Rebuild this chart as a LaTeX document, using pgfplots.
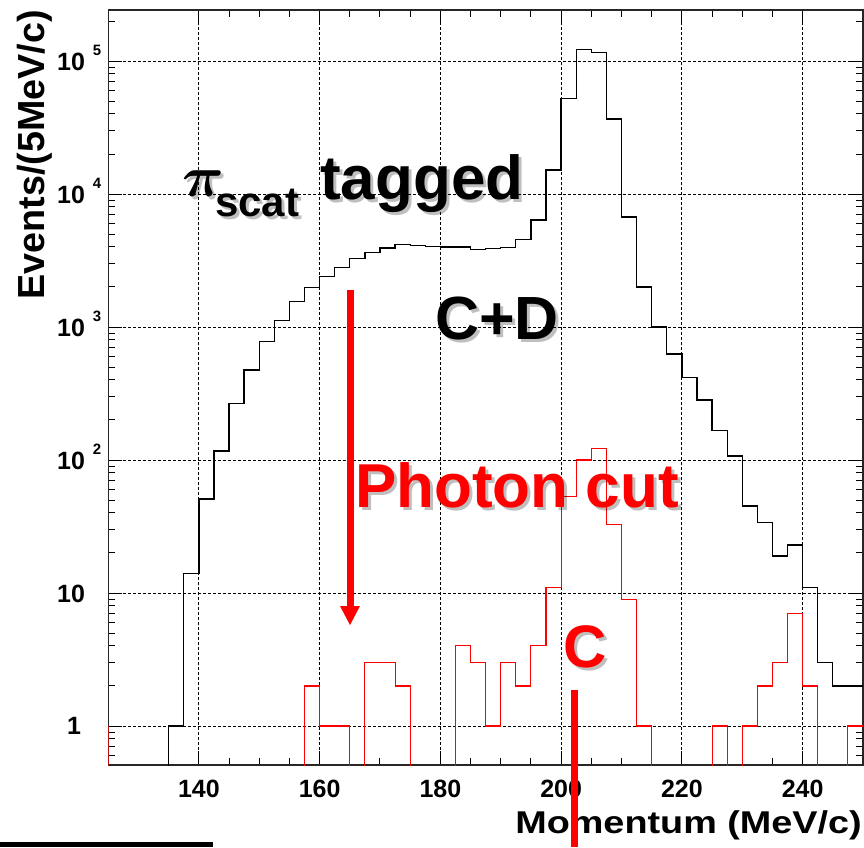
\documentclass[border=0pt]{standalone}
\usepackage{pgfplots}
\pgfplotsset{compat=1.18}
\usepackage{fontspec}
\setmainfont{Liberation Sans}
\newcommand\ylab[1]{\makebox[44pt][l]{10\hspace{8pt}\raisebox{14.7pt}{\fontsize{15pt}{15pt}\selectfont #1}}}
\newcommand\shnode[4]{%
  \node[anchor=base west, inner sep=0pt, text=black, opacity=0.25] at (#1+3,#2-3) {#4};
  \node[anchor=base west, inner sep=0pt, text=#3] at (#1,#2) {#4};}
\begin{document}
\begin{tikzpicture}[x=1pt,y=1pt]
\path[use as bounding box] (0,0) rectangle (864,847);
\begin{axis}[
  at={(108.3pt,82pt)}, anchor=south west,
  scale only axis, width=754.7pt, height=755pt,
  xmin=125, xmax=250, ymode=log, ymin=0.509, ymax=2.42e5,
  xtick={140,160,180,200,220,240},
  xticklabels={140,160,180,200,220,240},
  minor x tick num=3,
  ytick={1,10,100,1000,10000,100000},
  yticklabels={\makebox[44pt][l]{\hspace{10pt}1},\makebox[44pt][l]{10},\ylab{2},\ylab{3},\ylab{4},\ylab{5}},
  minor ytick={0.6,0.7,0.8,0.9,2,3,4,5,6,7,8,9,20,30,40,50,60,70,80,90,200,300,400,500,600,700,800,900,2000,3000,4000,5000,6000,7000,8000,9000,20000,30000,40000,50000,60000,70000,80000,90000,200000},
  tick align=inside, tick pos=both,
  major tick length=14pt, minor tick length=7pt,
  every tick/.style={black, line width=1pt},
  grid=major,
  major grid style={black, line width=0.8pt, dash pattern=on 3pt off 2pt},
  axis line style={black!85, line width=1.5pt},
  xticklabel style={font=\fontsize{25pt}{25pt}\selectfont\bfseries, inner sep=0pt, anchor=north, yshift=-15pt},
  yticklabel style={font=\fontsize{25pt}{25pt}\selectfont\bfseries, inner sep=0pt, anchor=base east, xshift=-7pt, yshift=-9pt},
]
\addplot[const plot mark left, black, line width=1.3pt, mark=none] coordinates {
(135,0.3) (135,1) (137.5,14) (140,51) (142.5,117) (145,267) (147.5,475) (150,775)
(152.5,1115) (155,1560) (157.5,1990) (160,2390) (162.5,2810) (165,3270) (167.5,3620)
(170,3920) (172.5,4190) (175,4110) (177.5,4010) (180,4000) (182.5,3990) (185,3840)
(187.5,3900) (190,3970) (192.5,4560) (195,6380) (197.5,15150) (200,52100)
(202.5,122400) (205,115400) (207.5,36600) (210,6710) (212.5,2000) (215,1000)
(217.5,627) (220,416) (222.5,283) (225,166) (227.5,107) (230,45) (232.5,34)
(235,19) (237.5,23) (240,11) (242.5,3) (245,2) (247.5,2) (250,2)
};
\addplot[const plot mark left, red, line width=1.1pt, mark=none] coordinates {
(125,1) (125,0.3) (157.5,2) (160,1) (162.5,1) (165,0.3) (167.5,3) (170,3)
(172.5,2) (175,0.3) (182.5,4) (185,3) (187.5,1) (190,3) (192.5,2) (195,4)
(197.5,11) (200,53) (202.5,100) (205,122) (207.5,33) (210,9) (212.5,1) (215,0.3)
(225,1) (227.5,0.3) (230,1) (232.5,2) (235,3) (237.5,7) (240,2) (242.5,0.3)
(247.5,1) (250,1)
};
\end{axis}
% axis titles
\node[rotate=90, anchor=base, inner sep=0pt] at (44,692) {\fontsize{37.7pt}{37.7pt}\selectfont\bfseries Events/(5MeV/c)};
\node[anchor=base east, inner sep=0pt] at (862,14) {\scalebox{1.2}[1]{\fontsize{31.5pt}{31.5pt}\selectfont\bfseries Momentum (MeV/c)}};
% annotations
\shnode{182}{650}{black}{\scalebox{5.8}{\boldmath$\pi$}}
\shnode{215}{630}{black}{\fontsize{42pt}{42pt}\selectfont\bfseries scat}
\shnode{320}{647}{black}{\fontsize{62pt}{62pt}\selectfont\bfseries tagged}
\shnode{435}{507}{black}{\fontsize{61pt}{61pt}\selectfont\bfseries C+D}
\shnode{355}{340}{red}{\fontsize{62pt}{62pt}\selectfont\bfseries Photon cut}
\shnode{563}{180}{red}{\fontsize{60pt}{60pt}\selectfont\bfseries C}
% red arrow
\draw[red, line width=7pt] (350,557) -- (350,238);
\fill[red] (340,241) -- (360,241) -- (350,222) -- cycle;
% red C line
\fill[red] (571,0) rectangle (578,157);
% black bar bottom left
\fill[black] (0,0) rectangle (213,5);
\end{tikzpicture}
\end{document}
